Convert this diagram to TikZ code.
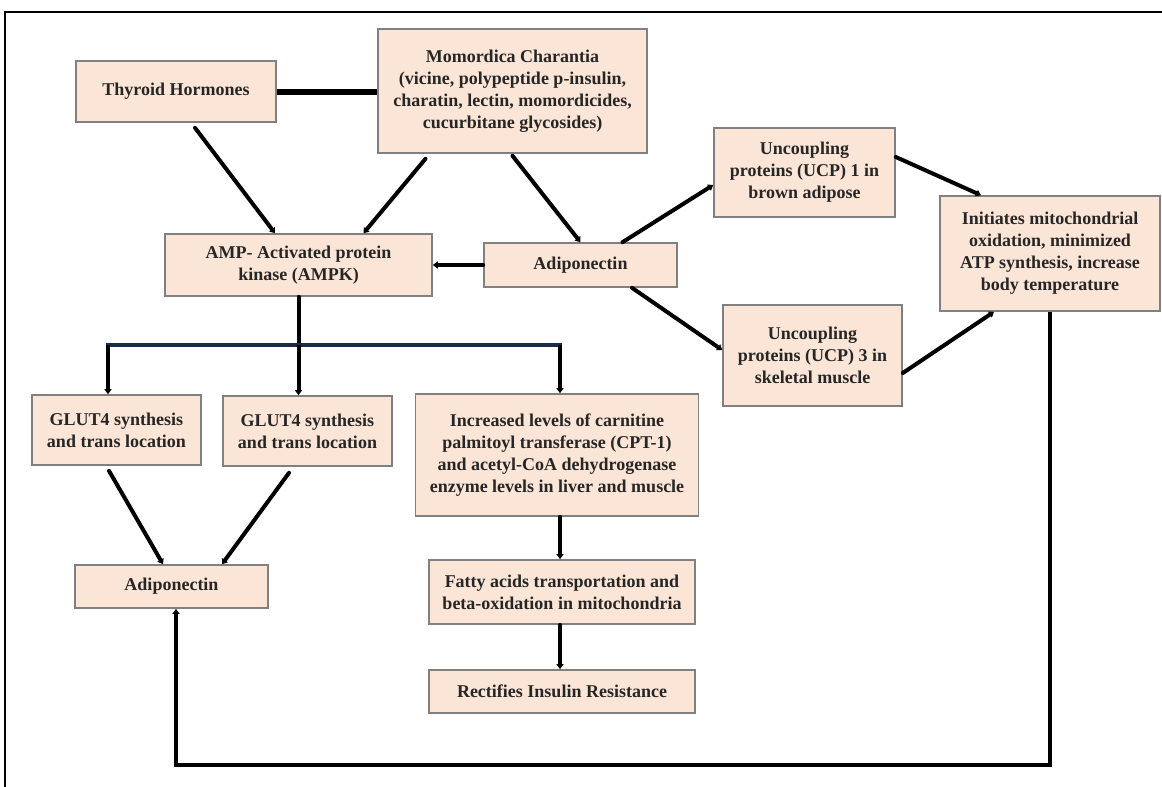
\documentclass[tikz,border=0pt]{standalone}
\usepackage{fontspec}
\setmainfont{Liberation Serif}
\usetikzlibrary{arrows.meta}

\definecolor{peach}{RGB}{251,229,214}
\definecolor{boxline}{RGB}{128,128,128}
\definecolor{busblue}{RGB}{27,42,74}

\begin{document}
\begin{tikzpicture}[x=1pt,y=1pt,yscale=-1,xscale=1,
	box/.style={draw=boxline,line width=1.6pt,fill=peach,align=center,inner sep=0pt,
		font=\bfseries\fontsize{18}{22}\selectfont,text=black!85},
	link/.style={line width=4pt,line cap=round},
	arr/.style={link,-{Triangle[length=5pt,width=7pt]}}]
	\useasboundingbox (0,0) rectangle (1162,787);
	
	% frame
	\draw [line width=2pt] (5,787) -- (5,12) -- (1162,12) ;
	
	% Boxes
	\node [box,minimum width=200,minimum height=61] (thy) at (176,91.5) {Thyroid Hormones};
	\node [box,minimum width=269,minimum height=124] (mom) at (512.5,91) {Momordica Charantia\\(vicine, polypeptide p-insulin,\\charatin, lectin, momordicides,\\cucurbitane glycosides)};
	\node [box,minimum width=267,minimum height=62] (ampk) at (298.5,265) {AMP- Activated protein\\kinase (AMPK)};
	\node [box,minimum width=193,minimum height=44] (adr) at (580.5,265) {Adiponectin};
	\node [box,minimum width=181,minimum height=89] (ucp1) at (804.5,172.5) {Uncoupling\\proteins (UCP) 1 in\\brown adipose};
	\node [box,minimum width=220,minimum height=115] (init) at (1050,253.5) {Initiates mitochondrial\\oxidation, minimized\\ATP synthesis, increase\\body temperature};
	\node [box,minimum width=179,minimum height=101] (ucp3) at (812.5,355.5) {Uncoupling\\proteins (UCP) 3 in\\skeletal muscle};
	\node [box,minimum width=169,minimum height=70] (glutl) at (116.5,430) {GLUT4 synthesis\\and trans location};
	\node [box,minimum width=169,minimum height=70] (glutr) at (307.5,431) {GLUT4 synthesis\\and trans location};
	\node [box,minimum width=283,minimum height=122] (cpt) at (557,455) {Increased levels of carnitine\\palmitoyl transferase (CPT-1)\\and acetyl-CoA dehydrogenase\\enzyme levels in liver and muscle};
	\node [box,minimum width=193,minimum height=43] (adl) at (171.5,586.5) {Adiponectin};
	\node [box,minimum width=266,minimum height=64] (fat) at (562,592) {Fatty acids transportation and\\beta-oxidation in mitochondria};
	\node [box,minimum width=266,minimum height=43] (rec) at (562,691.5) {Rectifies Insulin Resistance};
	
	% bus coordinates
	\coordinate (b1) at (108,345);
	\coordinate (b3) at (560,345);
	\coordinate (lp) at (0,765);
	
	% Top part
	\draw [link,line width=6pt,line cap=butt] (thy.east) -- (thy.east -| mom.west) ;
	\draw [arr] ([xshift=19pt,yshift=5pt]thy.south) -- ([xshift=-23.5pt]ampk.north) ;
	\draw [arr] ([xshift=-87pt,yshift=5pt]mom.south) -- ([xshift=65pt]ampk.north) ;
	\draw [arr] ([yshift=2pt]mom.south) -- (adr.north) ;
	\draw [arr] (adr.west) -- (ampk.east) ;
	\draw [arr] ([xshift=42pt]adr.north) -- ([yshift=12.5pt]ucp1.west) ;
	\draw [arr] ([xshift=51.5pt]adr.south) -- ([yshift=-5.5pt]ucp3.west) ;
	\draw [arr] ([yshift=-15.5pt]ucp1.east) -- ([xshift=-69pt]init.north) ;
	\draw [arr] ([yshift=17.5pt]ucp3.east) -- ([xshift=-56pt]init.south) ;
	
	% AMPK branches
	\draw [link] (ampk.south) -- (ampk.south |- b1) ;
	\draw [link,color=busblue,line cap=butt] ([xshift=-2pt]b1) -- ([xshift=2pt]b3) ;
	\draw [arr,line cap=butt] (b1) -- (b1 |- glutl.north) ;
	\draw [arr,line cap=butt] (ampk.south |- b1) -- (ampk.south |- glutr.north) ;
	\draw [arr,line cap=butt] (b3) -- (b3 |- cpt.north) ;
	
	% lower part
	\draw [arr] ([xshift=-7.5pt,yshift=5pt]glutl.south) -- ([xshift=-8.5pt]adl.north) ;
	\draw [arr] ([xshift=-18.5pt,yshift=6pt]glutr.south) -- ([xshift=50.5pt]adl.north) ;
	\draw [arr] (cpt.south -| b3) -- (b3 |- fat.north) ;
	\draw [arr] (fat.south -| b3) -- (b3 |- rec.north) ;
	
	% feedback loop
	\draw [arr,line cap=butt] (init.south) |- ([xshift=4.5pt]adl.south |- lp) -- ([xshift=4.5pt]adl.south) ;
	
\end{tikzpicture}
\end{document}
